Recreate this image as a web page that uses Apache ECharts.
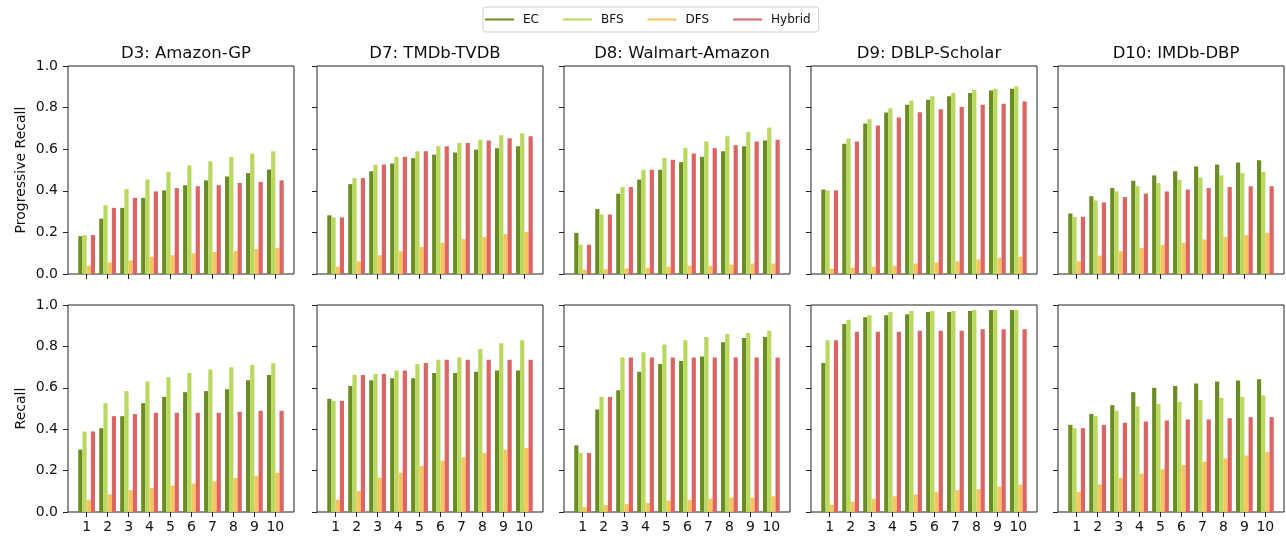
<!DOCTYPE html>
<html><head><meta charset="utf-8">
<script src="https://cdn.jsdelivr.net/npm/echarts@6/dist/echarts.min.js"></script>
<style>html,body{margin:0;padding:0;background:#fff}#c{width:1286px;height:538px}</style>
</head><body><div id="c"></div>
<script>
// ---------- data ----------
const categories = [1, 2, 3, 4, 5, 6, 7, 8, 9, 10];
const datasetTitles = ['D3: Amazon-GP', 'D7: TMDb-TVDB', 'D8: Walmart-Amazon', 'D9: DBLP-Scholar', 'D10: IMDb-DBP'];
const seriesNames = ['EC', 'BFS', 'DFS', 'Hybrid'];
const rowLabels = ['Progressive Recall', 'Recall'];
const yTickValues = [0, 0.2, 0.4, 0.6, 0.8, 1.0];

// Progressive Recall (top row)
const prog_D3_EC     = [0.182, 0.266, 0.318, 0.366, 0.402, 0.427, 0.450, 0.469, 0.485, 0.502];
const prog_D3_BFS    = [0.187, 0.330, 0.408, 0.454, 0.490, 0.522, 0.542, 0.563, 0.579, 0.590];
const prog_D3_DFS    = [0.040, 0.055, 0.065, 0.083, 0.090, 0.099, 0.106, 0.110, 0.120, 0.126];
const prog_D3_Hybrid = [0.187, 0.318, 0.366, 0.397, 0.413, 0.422, 0.427, 0.438, 0.443, 0.450];

const prog_D7_EC     = [0.282, 0.432, 0.494, 0.531, 0.557, 0.574, 0.584, 0.598, 0.605, 0.614];
const prog_D7_BFS    = [0.272, 0.461, 0.526, 0.563, 0.590, 0.614, 0.630, 0.646, 0.667, 0.677];
const prog_D7_DFS    = [0.035, 0.060, 0.090, 0.109, 0.130, 0.150, 0.168, 0.178, 0.192, 0.202];
const prog_D7_Hybrid = [0.272, 0.461, 0.526, 0.563, 0.590, 0.614, 0.630, 0.642, 0.653, 0.662];

const prog_D8_EC     = [0.198, 0.312, 0.386, 0.454, 0.501, 0.538, 0.563, 0.590, 0.614, 0.642];
const prog_D8_BFS    = [0.141, 0.286, 0.418, 0.501, 0.558, 0.605, 0.637, 0.662, 0.683, 0.704];
const prog_D8_DFS    = [0.020, 0.022, 0.027, 0.030, 0.035, 0.040, 0.040, 0.045, 0.050, 0.050];
const prog_D8_Hybrid = [0.141, 0.286, 0.418, 0.501, 0.549, 0.579, 0.605, 0.619, 0.637, 0.646];

const prog_D9_EC     = [0.406, 0.626, 0.723, 0.776, 0.814, 0.838, 0.854, 0.870, 0.882, 0.891];
const prog_D9_BFS    = [0.402, 0.651, 0.744, 0.797, 0.834, 0.854, 0.870, 0.886, 0.891, 0.902];
const prog_D9_DFS    = [0.025, 0.030, 0.035, 0.040, 0.050, 0.055, 0.060, 0.070, 0.078, 0.083];
const prog_D9_Hybrid = [0.402, 0.637, 0.714, 0.752, 0.778, 0.792, 0.803, 0.814, 0.819, 0.829];

const prog_D10_EC     = [0.291, 0.374, 0.413, 0.448, 0.474, 0.494, 0.517, 0.526, 0.536, 0.547];
const prog_D10_BFS    = [0.275, 0.354, 0.397, 0.422, 0.437, 0.453, 0.464, 0.474, 0.485, 0.490];
const prog_D10_DFS    = [0.060, 0.088, 0.109, 0.125, 0.139, 0.150, 0.166, 0.178, 0.187, 0.198];
const prog_D10_Hybrid = [0.275, 0.344, 0.370, 0.386, 0.397, 0.406, 0.413, 0.418, 0.422, 0.422];

// Recall (bottom row)
const rec_D3_EC     = [0.301, 0.405, 0.463, 0.526, 0.556, 0.579, 0.584, 0.593, 0.637, 0.662];
const rec_D3_BFS    = [0.389, 0.526, 0.584, 0.630, 0.651, 0.672, 0.688, 0.699, 0.711, 0.719];
const rec_D3_DFS    = [0.059, 0.085, 0.106, 0.117, 0.127, 0.137, 0.148, 0.164, 0.175, 0.190];
const rec_D3_Hybrid = [0.389, 0.463, 0.473, 0.479, 0.479, 0.479, 0.479, 0.484, 0.489, 0.489];

const rec_D7_EC     = [0.547, 0.609, 0.637, 0.646, 0.646, 0.672, 0.672, 0.677, 0.683, 0.683];
const rec_D7_BFS    = [0.537, 0.662, 0.667, 0.683, 0.715, 0.735, 0.746, 0.788, 0.815, 0.830];
const rec_D7_DFS    = [0.059, 0.101, 0.166, 0.190, 0.222, 0.248, 0.264, 0.285, 0.301, 0.310];
const rec_D7_Hybrid = [0.537, 0.662, 0.667, 0.683, 0.720, 0.735, 0.735, 0.735, 0.735, 0.735];

const rec_D8_EC     = [0.322, 0.495, 0.588, 0.678, 0.715, 0.730, 0.751, 0.820, 0.841, 0.846];
const rec_D8_BFS    = [0.285, 0.556, 0.746, 0.772, 0.809, 0.830, 0.846, 0.860, 0.865, 0.876];
const rec_D8_DFS    = [0.023, 0.034, 0.039, 0.043, 0.055, 0.059, 0.064, 0.069, 0.069, 0.076];
const rec_D8_Hybrid = [0.285, 0.556, 0.746, 0.746, 0.746, 0.746, 0.746, 0.746, 0.746, 0.746];

const rec_D9_EC     = [0.720, 0.908, 0.941, 0.950, 0.955, 0.966, 0.966, 0.971, 0.976, 0.976];
const rec_D9_BFS    = [0.830, 0.929, 0.950, 0.966, 0.971, 0.971, 0.971, 0.976, 0.976, 0.976];
const rec_D9_DFS    = [0.035, 0.050, 0.064, 0.076, 0.085, 0.096, 0.106, 0.111, 0.122, 0.132];
const rec_D9_Hybrid = [0.830, 0.871, 0.871, 0.871, 0.876, 0.876, 0.876, 0.883, 0.883, 0.883];

const rec_D10_EC     = [0.421, 0.474, 0.516, 0.579, 0.600, 0.609, 0.621, 0.630, 0.635, 0.641];
const rec_D10_BFS    = [0.405, 0.463, 0.489, 0.510, 0.521, 0.532, 0.542, 0.551, 0.556, 0.563];
const rec_D10_DFS    = [0.096, 0.133, 0.164, 0.185, 0.206, 0.227, 0.243, 0.259, 0.273, 0.289];
const rec_D10_Hybrid = [0.405, 0.421, 0.431, 0.437, 0.442, 0.447, 0.447, 0.453, 0.458, 0.458];

const panels = [
  [[prog_D3_EC, prog_D3_BFS, prog_D3_DFS, prog_D3_Hybrid],
   [prog_D7_EC, prog_D7_BFS, prog_D7_DFS, prog_D7_Hybrid],
   [prog_D8_EC, prog_D8_BFS, prog_D8_DFS, prog_D8_Hybrid],
   [prog_D9_EC, prog_D9_BFS, prog_D9_DFS, prog_D9_Hybrid],
   [prog_D10_EC, prog_D10_BFS, prog_D10_DFS, prog_D10_Hybrid]],
  [[rec_D3_EC, rec_D3_BFS, rec_D3_DFS, rec_D3_Hybrid],
   [rec_D7_EC, rec_D7_BFS, rec_D7_DFS, rec_D7_Hybrid],
   [rec_D8_EC, rec_D8_BFS, rec_D8_DFS, rec_D8_Hybrid],
   [rec_D9_EC, rec_D9_BFS, rec_D9_DFS, rec_D9_Hybrid],
   [rec_D10_EC, rec_D10_BFS, rec_D10_DFS, rec_D10_Hybrid]]
];

// ---------- style / layout ----------
const colors = ['#6b8c23', '#b8d95e', '#f9c35d', '#dd6464'];
const FONT = 'DejaVu Sans';
const colLefts = [68, 317, 564, 811, 1058];
const colWidth = 226;
const rowTops = [66, 305];
const rowHeights = [208, 207];
const spine = '#222';

const grid = [], xAxis = [], yAxis = [], series = [], title = [];
let idx = 0;
for (let r = 0; r < 2; r++) {
  for (let c = 0; c < 5; c++) {
    grid.push({ left: colLefts[c], top: rowTops[r], width: colWidth, height: rowHeights[r],
      show: true, borderColor: spine, borderWidth: 1, backgroundColor: '#fff', containLabel: false });
    xAxis.push({ type: 'value', gridIndex: idx, min: 0.11, max: 10.89,
      splitLine: { show: false },
      axisLine: { show: false },
      axisTick: { show: true, length: 5, customValues: categories, lineStyle: { color: spine } },
      axisLabel: { show: r === 1, customValues: categories, margin: 8, color: '#111',
        fontFamily: FONT, fontSize: 14 } });
    yAxis.push({ type: 'value', gridIndex: idx, min: 0, max: 1, interval: 0.2,
      splitLine: { show: false },
      axisLine: { show: false },
      axisTick: { show: true, length: 5, lineStyle: { color: spine } },
      axisLabel: { show: c === 0, margin: 10, color: '#111', fontFamily: FONT, fontSize: 14,
        formatter: v => v.toFixed(1) },
      name: c === 0 ? rowLabels[r] : '', nameLocation: 'middle', nameGap: 40,
      nameTextStyle: { fontFamily: FONT, fontSize: 14, color: '#111' } });
    for (let s = 0; s < 4; s++) {
      series.push({ type: 'bar', name: seriesNames[s], xAxisIndex: idx, yAxisIndex: idx,
        barWidth: '20%', barGap: '0%',
        itemStyle: { color: colors[s] },
        data: categories.map((cat, i) => [cat, panels[r][c][s][i]]) });
    }
    if (r === 0) {
      title.push({ text: datasetTitles[c], left: colLefts[c] + colWidth / 2, top: 40, textAlign: 'center',
        textStyle: { fontFamily: FONT, fontSize: 16.5, fontWeight: 'normal', color: '#111' } });
    }
    idx++;
  }
}

const option = {
  animation: false,
  backgroundColor: '#fff',
  title,
  legend: {
    data: seriesNames, left: 483, top: 7, icon: 'rect', itemWidth: 29, itemHeight: 2, itemGap: 24,
    padding: [6, 8, 6, 2], borderColor: '#d0d0d0', borderWidth: 1, borderRadius: 3,
    textStyle: { fontFamily: FONT, fontSize: 12, color: '#111', lineHeight: 13, padding: [0, 0, 0, 4] }
  },
  grid, xAxis, yAxis, series
};
const chart = echarts.init(document.getElementById('c'), null, { renderer: 'canvas' });
chart.setOption(option);
</script></body></html>
